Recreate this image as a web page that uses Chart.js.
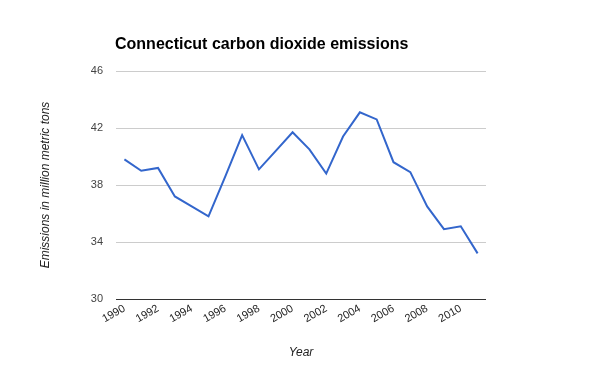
<!DOCTYPE html>
<html>
<head>
<meta charset="utf-8">
<script src="https://cdn.jsdelivr.net/npm/chart.js@4"></script>
<style>
  html, body { margin: 0; padding: 0; background: #fff; }
  #wrap { width: 600px; height: 371px; }
</style>
</head>
<body>
<div id="wrap"><canvas id="myChart" width="600" height="371"></canvas></div>
<script>
// DATA
const years = ["1990", "1991", "1992", "1993", "1994", "1995", "1996", "1997", "1998", "1999", "2000",
               "2001", "2002", "2003", "2004", "2005", "2006", "2007", "2008", "2009", "2010", "2011"];
const emissions = [39.8, 39.0, 39.2, 37.2, 36.5, 35.8, 38.6, 41.5, 39.1, 40.4, 41.7,
                   40.5, 38.8, 41.4, 43.1, 42.6, 39.6, 38.9, 36.5, 34.9, 35.1, 33.2];
const yTicks = [30, 34, 38, 42, 46];

const chartTitle = "Connecticut carbon dioxide emissions";

// title drawn at the left edge of the plot, like the original
const titlePlugin = {
  id: 'leftTitle',
  afterDraw(chart) {
    const c = chart.ctx;
    c.save();
    c.font = 'bold 16px "Liberation Sans", Arial, sans-serif';
    c.fillStyle = '#000';
    c.textBaseline = 'middle';
    c.textAlign = 'left';
    c.fillText(chartTitle, chart.chartArea.left - 1, 45);
    c.restore();
  }
};

Chart.defaults.font.family = '"Liberation Sans", Arial, sans-serif';
Chart.defaults.font.size = 11;
Chart.defaults.color = '#444';

const ctx = document.getElementById('myChart').getContext('2d');

const chart = new Chart(ctx, {
  type: 'line',
  data: {
    labels: years,
    datasets: [{
      label: "Emissions",
      data: emissions,
      borderColor: '#3366cc',
      backgroundColor: '#3366cc',
      borderWidth: 2,
      pointRadius: 0,
      tension: 0,
    }]
  },
  options: {
    responsive: false,
    animation: false,
    layout: { padding: { left: 34, right: 114, top: 71, bottom: 7 } },
    plugins: {
      legend: { display: false },
      tooltip: { enabled: false },
    },
    scales: {
      x: {
        offset: true,
        grid: { display: false, drawTicks: false },
        border: { display: false },
        ticks: {
          autoSkip: false,
          maxRotation: 30,
          minRotation: 30,
          padding: 3,
          color: '#222',
          callback: function (v, i) { return i % 2 === 0 ? years[i] : ''; },
        },
        title: {
          display: true,
          text: 'Year',
          color: '#222',
          font: { size: 12, style: 'italic' },
        },
        afterFit: function (scale) { scale.height = 65; },
      },
      y: {
        min: yTicks[0],
        max: yTicks[yTicks.length - 1],
        afterBuildTicks: function (scale) { scale.ticks = yTicks.map(v => ({ value: v })); },
        grid: {
          drawTicks: false,
          color: function (c) { return c.tick && c.tick.value === 30 ? '#333' : '#ccc'; },
        },
        border: { display: false },
        ticks: { padding: 13, color: '#444' },
        title: {
          display: true,
          text: 'Emissions in million metric tons',
          color: '#222',
          font: { size: 12, style: 'italic' },
        },
        afterFit: function (scale) { scale.width = 82; },
      }
    }
  },
  plugins: [titlePlugin]
});
</script>
</body>
</html>
